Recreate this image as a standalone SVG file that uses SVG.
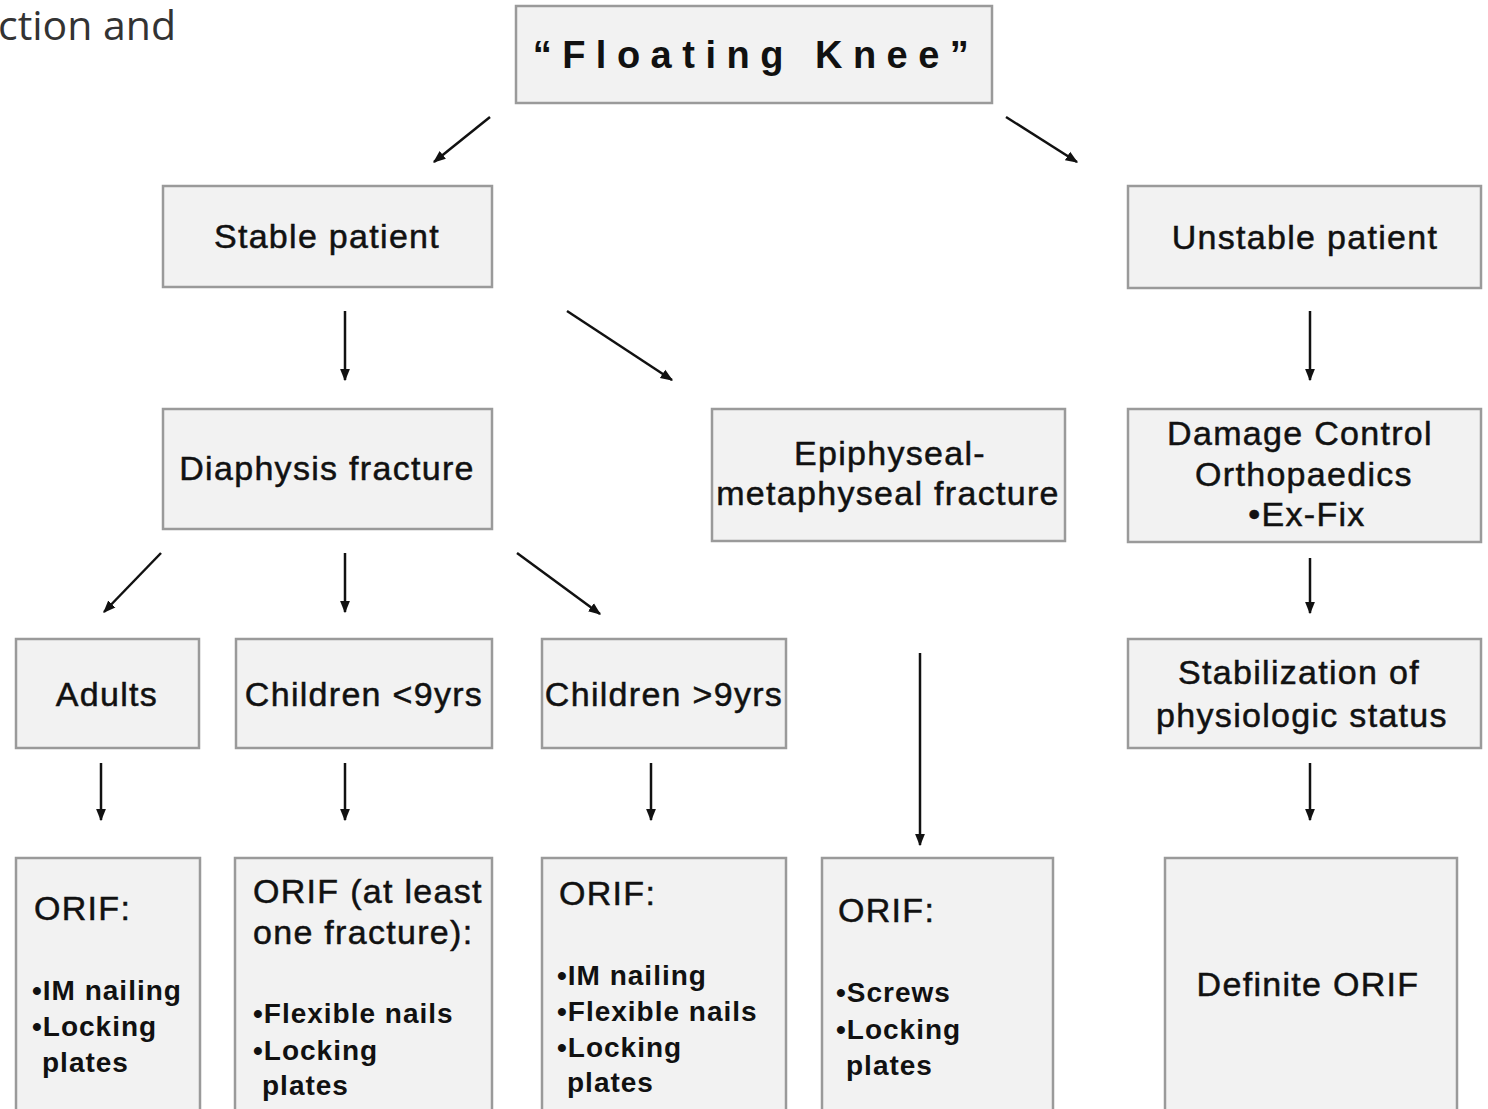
<svg xmlns="http://www.w3.org/2000/svg" width="1488" height="1109" viewBox="0 0 1488 1109">
<defs>
<marker id="ah" viewBox="0 0 10 10" refX="9" refY="5" markerWidth="5" markerHeight="5" orient="auto" markerUnits="strokeWidth">
<path d="M0,1 L10,5 L0,9 z" fill="#111"/>
</marker>
<style>
.box{fill:#f2f2f2;stroke:#9a9a9a;stroke-width:2.5}
.t{font-family:"Liberation Sans",Arial,sans-serif;font-size:34px;fill:#111;letter-spacing:1.3px;stroke:#111;stroke-width:0.5}
.c{text-anchor:middle}
.b{font-family:"Liberation Sans",Arial,sans-serif;font-size:28px;font-weight:bold;fill:#111;letter-spacing:1px}
.ln{stroke:#111;stroke-width:2.5;fill:none;marker-end:url(#ah)}
</style>
</defs>
<rect width="1488" height="1109" fill="#ffffff"/>
<text x="-2" y="40" font-family="'Open Sans',sans-serif" font-size="41" fill="#333">ction and</text>

<g id="title"><rect class="box" x="516" y="6" width="476" height="97"/>
<text x="756" y="68" class="c" font-family="'Liberation Sans',Arial,sans-serif" font-size="38" font-weight="bold" letter-spacing="10.5" fill="#111">“Floating Knee”</text></g>

<g id="stable"><rect class="box" x="163" y="186" width="329" height="101"/>
<text x="327" y="248" class="t c">Stable patient</text></g>

<g id="unstable"><rect class="box" x="1128" y="186" width="353" height="102"/>
<text x="1305" y="249" class="t c">Unstable patient</text></g>

<g id="diaphysis"><rect class="box" x="163" y="409" width="329" height="120"/>
<text x="327" y="480" class="t c">Diaphysis fracture</text></g>

<g id="epiphyseal"><rect class="box" x="712" y="409" width="353" height="132"/>
<text x="890" y="465" class="t c">Epiphyseal-</text>
<text x="888" y="505" class="t c">metaphyseal fracture</text></g>

<g id="damage"><rect class="box" x="1128" y="409" width="353" height="133"/>
<text x="1300" y="445" class="t c">Damage Control</text>
<text x="1304" y="486" class="t c">Orthopaedics</text>
<text x="1307" y="526" class="t c">•Ex-Fix</text></g>

<g id="adults"><rect class="box" x="16" y="639" width="183" height="109"/>
<text x="107" y="706" class="t c">Adults</text></g>

<g id="children-lt9"><rect class="box" x="236" y="639" width="256" height="109"/>
<text x="364" y="706" class="t c">Children &lt;9yrs</text></g>

<g id="children-gt9"><rect class="box" x="542" y="639" width="244" height="109"/>
<text x="664" y="706" class="t c">Children &gt;9yrs</text></g>

<g id="stabilization"><rect class="box" x="1128" y="639" width="353" height="109"/>
<text x="1299" y="684" class="t c">Stabilization of</text>
<text x="1302" y="727" class="t c">physiologic status</text></g>

<g id="orif-adults"><rect class="box" x="16" y="858" width="184" height="260"/>
<text x="34" y="920" class="t">ORIF:</text>
<text x="32" y="1000" class="b">•IM nailing</text>
<text x="32" y="1036" class="b">•Locking</text>
<text x="42" y="1072" class="b">plates</text></g>

<g id="orif-lt9"><rect class="box" x="235" y="858" width="257" height="260"/>
<text x="253" y="903" class="t">ORIF (at least</text>
<text x="253" y="944" class="t">one fracture):</text>
<text x="253" y="1023" class="b">•Flexible nails</text>
<text x="253" y="1060" class="b">•Locking</text>
<text x="262" y="1095" class="b">plates</text></g>

<g id="orif-gt9"><rect class="box" x="542" y="858" width="244" height="260"/>
<text x="559" y="905" class="t">ORIF:</text>
<text x="557" y="985" class="b">•IM nailing</text>
<text x="557" y="1021" class="b">•Flexible nails</text>
<text x="557" y="1057" class="b">•Locking</text>
<text x="567" y="1092" class="b">plates</text></g>

<g id="orif-epi"><rect class="box" x="822" y="858" width="231" height="260"/>
<text x="838" y="922" class="t">ORIF:</text>
<text x="836" y="1002" class="b">•Screws</text>
<text x="836" y="1039" class="b">•Locking</text>
<text x="846" y="1075" class="b">plates</text></g>

<g id="definite"><rect class="box" x="1165" y="858" width="292" height="260"/>
<text x="1308" y="996" class="t c">Definite ORIF</text></g>

<g id="connectors">
<line class="ln" x1="490" y1="117" x2="434" y2="162"/>
<line class="ln" x1="1006" y1="117" x2="1077" y2="162"/>
<line class="ln" x1="345" y1="311" x2="345" y2="380"/>
<line class="ln" x1="567" y1="311" x2="672" y2="380"/>
<line class="ln" x1="1310" y1="311" x2="1310" y2="380"/>
<line class="ln" x1="161" y1="553" x2="104" y2="612"/>
<line class="ln" x1="345" y1="553" x2="345" y2="612"/>
<line class="ln" x1="517" y1="553" x2="600" y2="614"/>
<line class="ln" x1="1310" y1="558" x2="1310" y2="613"/>
<line class="ln" x1="101" y1="763" x2="101" y2="820"/>
<line class="ln" x1="345" y1="763" x2="345" y2="820"/>
<line class="ln" x1="651" y1="763" x2="651" y2="820"/>
<line class="ln" x1="920" y1="653" x2="920" y2="845"/>
<line class="ln" x1="1310" y1="763" x2="1310" y2="820"/>
</g>
</svg>
